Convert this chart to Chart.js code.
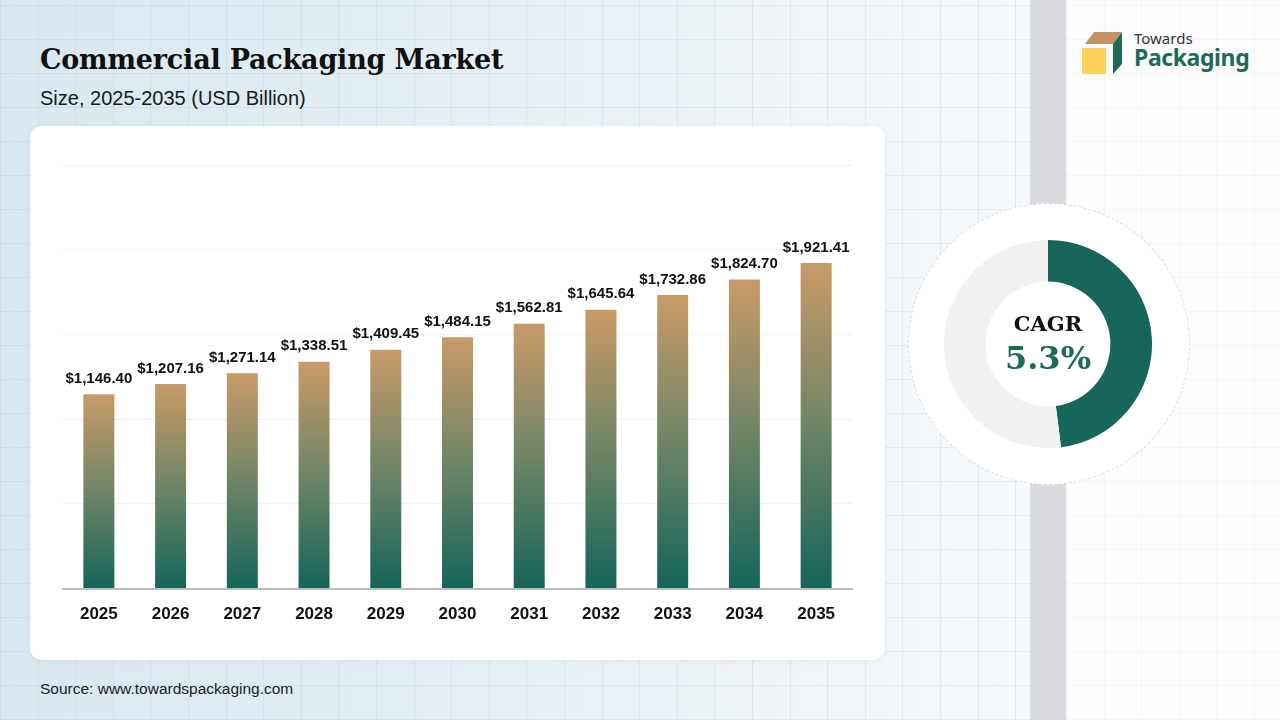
<!DOCTYPE html>
<html>
<head>
<meta charset="utf-8">
<script src="https://cdn.jsdelivr.net/npm/chart.js@4.4.1/dist/chart.umd.min.js"></script>
<style>
  html, body { margin: 0; padding: 0; }
  body {
    width: 1280px; height: 720px; position: relative; overflow: hidden;
    font-family: "Liberation Sans", Arial, sans-serif;
    background:
      repeating-linear-gradient(90deg, rgba(160,180,195,0.2) 0 1px, transparent 1px 37.6px),
      repeating-linear-gradient(0deg, rgba(160,180,195,0.2) 0 1px, transparent 1px 34px),
      linear-gradient(90deg, #d9e7f0 0%, #e3eef4 30%, #eef4f8 60%, #f6f9fb 80%, #f8fafb 100%);
  }
  .band { position: absolute; left: 1030px; top: 0; width: 36px; height: 720px; background: #d9dadd; }
  .right {
    position: absolute; left: 1066px; top: 0; width: 214px; height: 720px;
    background:
      repeating-linear-gradient(90deg, rgba(200,210,218,0.16) 0 1px, transparent 1px 37.6px),
      repeating-linear-gradient(0deg, rgba(200,210,218,0.16) 0 1px, transparent 1px 34px),
      #fcfcfd;
  }
  .title {
    position: absolute; left: 40px; top: 44px; margin: 0;
    font-family: "DejaVu Serif", serif; font-weight: bold; font-size: 27px; color: #111;
    letter-spacing: -0.2px;
  }
  .subtitle { position: absolute; left: 40px; top: 87px; font-size: 20px; color: #1a1a1a; }
  .card {
    position: absolute; left: 30px; top: 126px; width: 855px; height: 534px;
    background: #fff; border-radius: 12px; box-shadow: 0 1px 6px rgba(0,0,0,0.06);
  }
  #bar { position: absolute; left: 40px; top: 140px; }
  .ring {
    position: absolute; left: 908px; top: 203px; width: 280px; height: 280px;
    border: 1px dashed #d8d8d8; border-radius: 50%; background: #fff;
  }
  #donut { position: absolute; left: 944px; top: 240px; }
  .cagr {
    position: absolute; left: 948px; width: 200px; text-align: center;
    font-family: "DejaVu Serif", serif; font-weight: bold;
  }
  .source { position: absolute; left: 40px; top: 680px; font-size: 15.5px; color: #222; }
  .logo { position: absolute; left: 1082px; top: 28px; }
  .logo .t1 { position: absolute; left: 52px; top: 0px; font-family: "Noto Sans", sans-serif; font-size: 15px; color: #333; white-space: nowrap; }
  .logo .t2 { position: absolute; left: 52px; top: 13px; font-family: "Noto Sans", sans-serif; font-weight: bold; font-size: 23px; color: #1d6b56; white-space: nowrap; letter-spacing: -0.4px; }
</style>
</head>
<body>
<div class="band"></div>
<div class="right"></div>

<h1 class="title">Commercial Packaging Market</h1>
<div class="subtitle">Size, 2025-2035 (USD Billion)</div>

<div class="card"></div>
<canvas id="bar" width="830" height="500"></canvas>

<div class="ring"></div>
<canvas id="donut" width="208" height="208"></canvas>
<div class="cagr" style="top:311px; font-size:21px; color:#111;">CAGR</div>
<div class="cagr" style="top:339px; font-size:32px; color:#1b6b58;">5.3%</div>

<div class="source">Source: www.towardspackaging.com</div>

<div class="logo">
  <svg width="50" height="48" viewBox="0 0 50 48">
    <polygon points="3,16 12,4 40,4 31,16" fill="#c39462"/>
    <polygon points="31,16 40,4 40,36 31,46" fill="#1d6b56"/>
    <rect x="0" y="20" width="24" height="26" fill="#fbd35a"/>
  </svg>
  <div class="t1">Towards</div>
  <div class="t2">Packaging</div>
</div>

<script>
const years = ['2025', '2026', '2027', '2028', '2029', '2030', '2031', '2032', '2033', '2034', '2035'];
const marketSize = [1146.40, 1207.16, 1271.14, 1338.51, 1409.45, 1484.15, 1562.81, 1645.64, 1732.86, 1824.70, 1921.41];
const cagrShare = [48, 52];

function barGradient(ctx) {
  const chart = ctx.chart;
  if (!chart.chartArea || ctx.raw === undefined) return '#7f8a66';
  const y = chart.scales.y;
  const top = y.getPixelForValue(ctx.raw);
  const base = y.getPixelForValue(0);
  const g = chart.ctx.createLinearGradient(0, top, 0, base);
  g.addColorStop(0, '#c99a67');
  g.addColorStop(0.5, '#6f8566');
  g.addColorStop(1, '#15645a');
  return g;
}

const valueLabels = {
  id: 'valueLabels',
  afterDatasetsDraw(chart) {
    const c = chart.ctx;
    const meta = chart.getDatasetMeta(0);
    c.save();
    c.font = 'bold 15px "Liberation Sans", Arial, sans-serif';
    c.fillStyle = '#111';
    c.textAlign = 'center';
    c.textBaseline = 'bottom';
    meta.data.forEach((bar, i) => {
      const v = marketSize[i].toLocaleString('en-US', { minimumFractionDigits: 2, maximumFractionDigits: 2 });
      c.fillText('$' + v, bar.x, bar.y - 8);
    });
    c.restore();
  }
};

new Chart(document.getElementById('bar'), {
  type: 'bar',
  data: {
    labels: years,
    datasets: [{
      data: marketSize,
      backgroundColor: barGradient,
      barPercentage: 0.54,
      categoryPercentage: 0.8
    }]
  },
  options: {
    responsive: false,
    animation: false,
    layout: { padding: { left: 23, right: 18, top: 25, bottom: 7 } },
    plugins: { legend: { display: false }, tooltip: { enabled: false } },
    scales: {
      x: {
        grid: { display: false },
        border: { color: '#bdbdbd', width: 2 },
        ticks: { color: '#111', padding: 8, font: { family: '"Liberation Sans", Arial, sans-serif', size: 17, weight: 'bold' } }
      },
      y: {
        min: 0, max: 2500,
        ticks: { display: false, stepSize: 500 },
        grid: { color: '#eeeeee', drawTicks: false },
        border: { display: false }
      }
    }
  },
  plugins: [valueLabels]
});

new Chart(document.getElementById('donut'), {
  type: 'doughnut',
  data: {
    labels: ['CAGR', 'Rest'],
    datasets: [{ data: cagrShare, backgroundColor: ['#17665a', '#f1f1f1'], borderWidth: 0 }]
  },
  options: {
    responsive: false,
    animation: false,
    cutout: '60%',
    plugins: { legend: { display: false }, tooltip: { enabled: false } }
  }
});
</script>
</body>
</html>
